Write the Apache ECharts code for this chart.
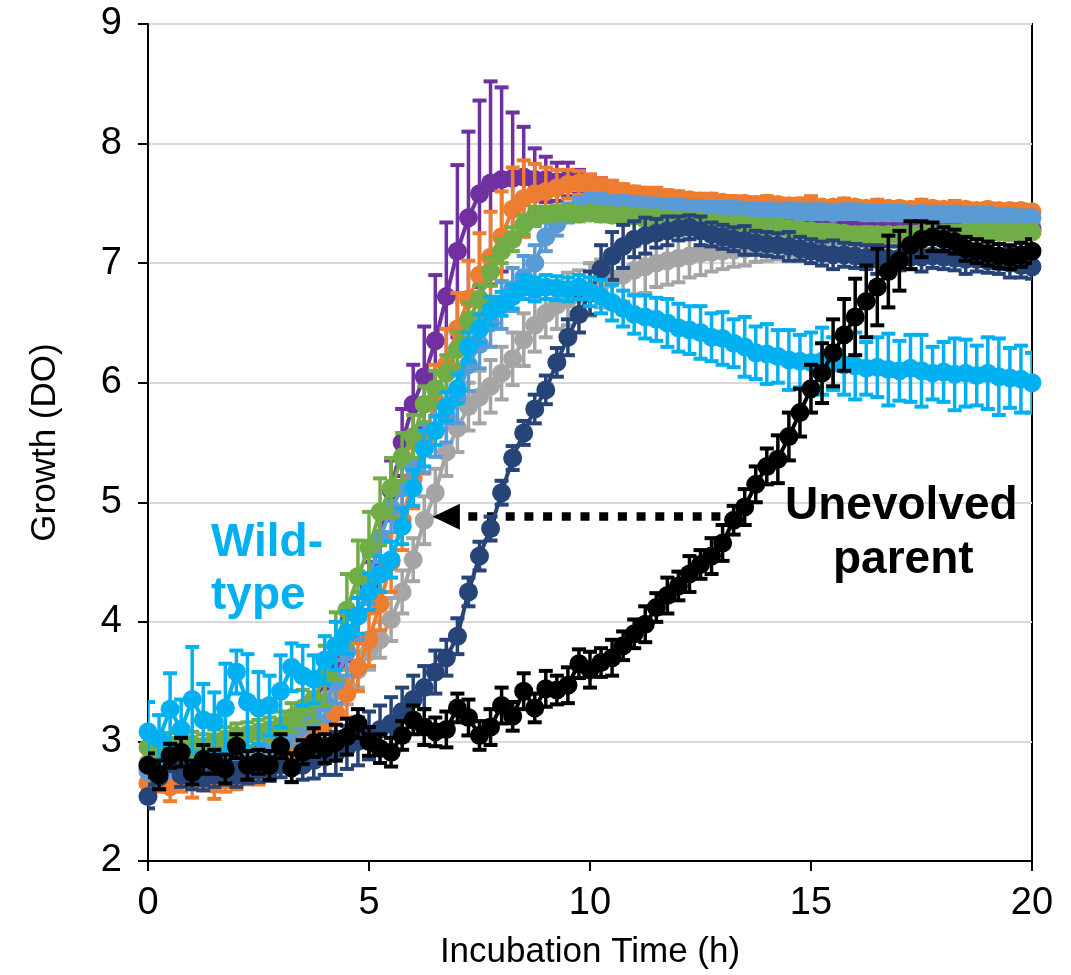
<!DOCTYPE html>
<html>
<head>
<meta charset="utf-8">
<title>Growth (DO)</title>
<script src="https://cdn.jsdelivr.net/npm/echarts@6/dist/echarts.min.js"></script>
<style>
html, body { margin: 0; padding: 0; background: #fff; }
#main { width: 1071px; height: 975px; }
</style>
</head>
<body>
<div id="main"></div>
<script>
// sampling times (h)
var hours = [0,0.25,0.5,0.75,1,1.25,1.5,1.75,2,2.25,2.5,2.75,3,3.25,3.5,3.75,4,4.25,4.5,4.75,5,5.25,5.5,5.75,6,6.25,6.5,6.75,7,7.25,7.5,7.75,8,8.25,8.5,8.75,9,9.25,9.5,9.75,10,10.25,10.5,10.75,11,11.25,11.5,11.75,12,12.25,12.5,12.75,13,13.25,13.5,13.75,14,14.25,14.5,14.75,15,15.25,15.5,15.75,16,16.25,16.5,16.75,17,17.25,17.5,17.75,18,18.25,18.5,18.75,19,19.25,19.5,19.75,20];

var purple = [2.78,2.82,2.76,2.8,2.83,2.78,2.8,2.84,2.82,2.85,2.87,2.9,2.95,3.05,3.2,3.35,3.5,3.65,3.85,4.05,4.3,4.7,5.1,5.5,5.82,6.05,6.35,6.72,7.1,7.38,7.58,7.67,7.7,7.71,7.72,7.7,7.7,7.68,7.7,7.68,7.66,7.63,7.6,7.58,7.56,7.54,7.52,7.5,7.48,7.46,7.45,7.43,7.42,7.41,7.4,7.39,7.37,7.37,7.36,7.35,7.34,7.34,7.33,7.33,7.33,7.32,7.32,7.32,7.31,7.31,7.31,7.3,7.3,7.3,7.3,7.29,7.29,7.29,7.28,7.28,7.28];
var purpleErr = [.08,.1,.08,.1,.08,.1,.08,.1,.12,.08,.1,.08,.1,.12,.12,.15,.15,.15,.18,.2,.2,.22,.25,.28,.33,.42,.55,.62,.72,.72,.78,.85,.77,.55,.42,.26,.19,.16,.14,.1,.08,.08,.07,.07,.07,.06,.07,.06,.06,.06,.06,.05,.06,.05,.06,.05,.05,.06,.05,.05,.06,.05,.05,.05,.05,.05,.06,.05,.05,.05,.05,.06,.05,.05,.05,.05,.05,.06,.05,.05,.05];

var orange = [2.65,2.7,2.62,2.68,2.66,2.7,2.64,2.68,2.7,2.72,2.74,2.78,2.85,2.92,3.0,3.08,3.15,3.24,3.4,3.62,3.85,4.15,4.5,4.85,5.2,5.52,5.85,6.15,6.45,6.7,6.9,7.05,7.22,7.45,7.54,7.58,7.6,7.63,7.66,7.67,7.66,7.64,7.62,7.6,7.58,7.57,7.56,7.55,7.54,7.53,7.52,7.52,7.51,7.5,7.5,7.49,7.5,7.49,7.48,7.48,7.49,7.47,7.47,7.48,7.47,7.46,7.47,7.46,7.46,7.45,7.47,7.46,7.45,7.46,7.45,7.44,7.45,7.44,7.44,7.44,7.43];
var orangeErr = [.1,.12,.12,.1,.13,.1,.12,.1,.1,.08,.1,.08,.1,.1,.12,.15,.15,.18,.2,.2,.22,.22,.25,.25,.25,.28,.3,.3,.3,.32,.35,.38,.38,.35,.32,.25,.2,.15,.12,.1,.08,.07,.07,.06,.06,.06,.07,.06,.06,.05,.06,.06,.05,.06,.05,.06,.06,.05,.05,.06,.07,.05,.05,.06,.05,.05,.06,.05,.05,.05,.06,.05,.05,.06,.05,.05,.05,.05,.05,.05,.05];

var green = [2.95,2.92,2.97,2.95,2.98,2.96,3.0,3.02,3.05,3.06,3.08,3.1,3.13,3.2,3.28,3.35,3.55,3.8,4.1,4.38,4.62,4.92,5.12,5.38,5.55,5.82,5.95,6.08,6.28,6.52,6.7,6.93,7.1,7.2,7.32,7.39,7.41,7.42,7.42,7.41,7.42,7.41,7.4,7.4,7.39,7.38,7.38,7.37,7.36,7.35,7.35,7.34,7.33,7.32,7.32,7.31,7.3,7.3,7.29,7.28,7.27,7.26,7.26,7.25,7.24,7.24,7.24,7.24,7.24,7.24,7.25,7.25,7.25,7.25,7.26,7.26,7.26,7.26,7.26,7.26,7.26];
var greenErr = [.1,.12,.1,.1,.1,.1,.1,.1,.1,.1,.1,.1,.12,.12,.15,.18,.25,.28,.3,.3,.3,.28,.25,.2,.18,.15,.15,.15,.15,.15,.12,.12,.1,.1,.08,.08,.06,.06,.06,.06,.05,.06,.05,.05,.05,.06,.05,.05,.05,.06,.05,.05,.05,.06,.05,.05,.05,.06,.05,.05,.05,.06,.05,.05,.05,.06,.05,.05,.05,.06,.05,.05,.05,.06,.05,.05,.05,.06,.05,.05,.05];

var lightBlue = [2.75,2.78,2.8,2.78,2.82,2.8,2.82,2.84,2.85,2.86,2.88,2.92,2.98,3.08,3.14,3.2,3.32,3.5,3.75,4.05,4.35,4.7,4.95,5.12,5.3,5.45,5.6,5.72,5.88,6.15,6.32,6.5,6.65,6.78,6.88,7.0,7.22,7.33,7.42,7.47,7.52,7.52,7.5,7.5,7.49,7.48,7.48,7.47,7.47,7.46,7.46,7.45,7.45,7.45,7.44,7.44,7.44,7.43,7.44,7.43,7.43,7.43,7.42,7.43,7.43,7.42,7.42,7.42,7.42,7.41,7.42,7.41,7.41,7.41,7.4,7.4,7.4,7.39,7.39,7.38,7.38];
var lightBlueErr = [.1,.1,.1,.1,.1,.1,.1,.1,.1,.1,.1,.1,.12,.12,.15,.15,.15,.18,.2,.2,.2,.2,.2,.2,.2,.2,.22,.22,.22,.22,.2,.2,.2,.18,.18,.15,.12,.1,.08,.08,.06,.06,.05,.06,.06,.06,.05,.06,.06,.06,.05,.06,.06,.06,.05,.06,.06,.06,.05,.06,.06,.06,.05,.06,.06,.06,.05,.06,.06,.06,.05,.06,.06,.06,.05,.06,.06,.06,.05,.06,.05];

var skyBlue = [3.08,3.02,3.27,3.1,3.35,3.18,3.16,3.28,3.58,3.33,3.28,3.3,3.42,3.62,3.55,3.52,3.68,3.8,3.91,4.05,4.25,4.4,4.52,4.8,5.12,5.45,5.6,5.8,5.95,6.3,6.45,6.6,6.66,6.72,6.8,6.78,6.8,6.79,6.78,6.8,6.76,6.72,6.67,6.62,6.57,6.55,6.53,6.5,6.46,6.44,6.42,6.38,6.37,6.33,6.3,6.25,6.24,6.22,6.19,6.18,6.17,6.18,6.16,6.15,6.14,6.12,6.13,6.11,6.1,6.12,6.1,6.08,6.09,6.07,6.08,6.06,6.08,6.05,6.04,6.03,6.0];
var skyBlueErr = [.25,.2,.3,.25,.44,.3,.25,.37,.18,.4,.3,.25,.3,.2,.25,.2,.2,.2,.18,.15,.15,.15,.15,.15,.15,.15,.12,.12,.12,.12,.12,.12,.1,.1,.1,.1,.1,.1,.1,.1,.12,.14,.15,.15,.16,.18,.18,.2,.2,.2,.22,.2,.22,.2,.25,.22,.25,.22,.25,.22,.25,.28,.22,.25,.28,.22,.25,.3,.25,.28,.3,.22,.25,.3,.28,.25,.3,.32,.25,.28,.25];

var gray = [2.82,2.8,2.84,2.82,2.85,2.83,2.86,2.85,2.87,2.88,2.9,2.93,2.97,3.05,3.15,3.28,3.38,3.42,3.46,3.6,3.75,3.85,4.02,4.25,4.52,4.85,5.08,5.42,5.62,5.8,5.88,5.97,6.08,6.2,6.36,6.48,6.58,6.65,6.7,6.74,6.78,6.83,6.87,6.9,6.94,6.97,7.0,7.02,7.04,7.06,7.08,7.09,7.1,7.11,7.12,7.13,7.14,7.15,7.16,7.16,7.17,7.17,7.18,7.18,7.19,7.2,7.2,7.21,7.21,7.22,7.22,7.23,7.23,7.24,7.25,7.26,7.27,7.28,7.29,7.3,7.3];
var grayErr = [.08,.08,.08,.08,.08,.08,.08,.08,.08,.08,.08,.08,.1,.1,.12,.12,.12,.12,.15,.15,.15,.15,.18,.18,.18,.2,.2,.2,.2,.2,.22,.22,.22,.22,.22,.22,.2,.2,.22,.2,.22,.2,.2,.22,.2,.22,.2,.2,.2,.18,.18,.16,.15,.14,.14,.12,.12,.12,.1,.12,.12,.12,.1,.12,.12,.12,.1,.12,.12,.12,.1,.12,.12,.12,.1,.12,.12,.12,.1,.12,.1];

var navy = [2.54,2.7,2.85,2.72,2.7,2.69,2.72,2.74,2.72,2.75,2.76,2.77,2.8,2.78,2.8,2.84,2.87,2.9,2.95,3.0,3.05,3.1,3.15,3.25,3.35,3.45,3.58,3.7,3.88,4.25,4.55,4.78,5.08,5.37,5.58,5.78,5.94,6.17,6.38,6.57,6.75,6.95,7.06,7.14,7.2,7.23,7.25,7.27,7.29,7.3,7.27,7.24,7.22,7.2,7.19,7.17,7.16,7.15,7.14,7.12,7.1,7.08,7.07,7.07,7.06,7.05,7.03,7.04,7.04,7.05,7.05,7.06,7.05,7.04,7.03,7.03,7.02,7.01,7.0,6.98,6.97];
var navyErr = [.1,.1,.1,.1,.1,.1,.1,.1,.1,.1,.1,.1,.1,.12,.12,.15,.15,.18,.18,.2,.2,.2,.22,.2,.2,.18,.18,.15,.15,.12,.12,.1,.1,.1,.1,.12,.12,.12,.15,.15,.18,.2,.2,.18,.15,.15,.12,.12,.1,.1,.12,.1,.1,.1,.12,.1,.1,.1,.12,.1,.1,.1,.12,.1,.1,.1,.12,.1,.1,.1,.12,.1,.1,.1,.12,.1,.1,.1,.12,.1,.1];

var black = [2.8,2.72,2.88,2.91,2.74,2.85,2.83,2.77,2.96,2.8,2.83,2.8,2.96,2.78,2.91,2.99,2.94,2.99,3.04,3.15,3.0,2.94,2.91,3.05,3.18,3.12,3.08,3.1,3.28,3.2,3.05,3.12,3.3,3.21,3.42,3.28,3.44,3.43,3.47,3.65,3.6,3.66,3.7,3.8,3.9,3.98,4.12,4.22,4.3,4.4,4.48,4.55,4.66,4.85,4.96,5.15,5.3,5.36,5.55,5.75,5.95,6.08,6.25,6.4,6.55,6.68,6.8,6.93,7.02,7.15,7.2,7.22,7.2,7.18,7.12,7.1,7.08,7.06,7.05,7.07,7.1];
var blackErr = [.1,.12,.1,.12,.1,.12,.1,.12,.1,.12,.1,.12,.1,.12,.1,.12,.12,.15,.15,.12,.12,.12,.12,.12,.12,.15,.12,.15,.12,.15,.12,.15,.15,.12,.15,.12,.15,.12,.15,.12,.15,.12,.15,.12,.12,.15,.12,.15,.12,.15,.12,.15,.15,.12,.15,.15,.15,.2,.2,.2,.2,.25,.28,.3,.32,.3,.32,.3,.25,.2,.15,.12,.1,.1,.1,.1,.1,.1,.1,.1,.1];

// dotted arrow: from the unevolved parent back to the evolved curve
var arrowFrom = [12.95, 4.88];
var arrowTo = [6.75, 4.88];

// drawing order, bottom to top
var strains = [
  { name: 'gray', color: '#A5A5A5', values: gray, errors: grayErr },
  { name: 'purple', color: '#7030A0', values: purple, errors: purpleErr },
  { name: 'orange', color: '#ED7D31', values: orange, errors: orangeErr },
  { name: 'lightBlue', color: '#5B9BD5', values: lightBlue, errors: lightBlueErr },
  { name: 'green', color: '#70AD47', values: green, errors: greenErr },
  { name: 'navy', color: '#264478', values: navy, errors: navyErr },
  { name: 'wildType', color: '#00B0F0', values: skyBlue, errors: skyBlueErr },
  { name: 'parent', color: '#000000', values: black, errors: blackErr }
];

var font = '"Liberation Sans", Arial, sans-serif';

function errorBar(color) {
  return function (params, api) {
    var x = api.value(0), y = api.value(1), e = api.value(2);
    var hi = api.coord([x, y + e]);
    var lo = api.coord([x, y - e]);
    var w = 7;
    return {
      type: 'group',
      children: [
        { type: 'line', shape: { x1: hi[0], y1: hi[1], x2: lo[0], y2: lo[1] }, style: { stroke: color, lineWidth: 3.5 } },
        { type: 'line', shape: { x1: hi[0] - w, y1: hi[1], x2: hi[0] + w, y2: hi[1] }, style: { stroke: color, lineWidth: 4 } },
        { type: 'line', shape: { x1: lo[0] - w, y1: lo[1], x2: lo[0] + w, y2: lo[1] }, style: { stroke: color, lineWidth: 4 } }
      ]
    };
  };
}

var series = [];
strains.forEach(function (s, k) {
  series.push({
    name: s.name + 'Err',
    type: 'custom',
    renderItem: errorBar(s.color),
    data: hours.map(function (t, i) { return [t, s.values[i], s.errors[i]]; }),
    encode: { x: 0, y: 1 },
    clip: true,
    silent: true,
    z: 2 + k * 2
  });
  var line = {
    name: s.name,
    type: 'line',
    data: hours.map(function (t, i) { return [t, s.values[i]]; }),
    symbol: 'circle',
    symbolSize: 19,
    showAllSymbol: true,
    lineStyle: { color: s.color, width: 4 },
    itemStyle: { color: s.color },
    emphasis: { disabled: true },
    clip: true,
    silent: true,
    z: 3 + k * 2
  };
  if (s.name === 'parent') {
    line.markLine = {
      silent: true,
      symbol: ['none', 'triangle'],
      symbolSize: [26, 27],
      label: { show: false },
      lineStyle: { color: '#000', width: 8.5, type: [9, 9.7], cap: 'butt' },
      emphasis: { disabled: true },
      data: [[{ coord: arrowFrom }, { coord: arrowTo }]]
    };
  }
  series.push(line);
});

var chart = echarts.init(document.getElementById('main'));
chart.setOption({
  animation: false,
  backgroundColor: '#fff',
  grid: { left: 148, right: 39, top: 24, bottom: 113, show: true, borderColor: '#000', borderWidth: 2, backgroundColor: 'transparent' },
  xAxis: {
    type: 'value', min: 0, max: 20, interval: 5,
    name: 'Incubation Time (h)', nameLocation: 'middle', nameGap: 74,
    nameTextStyle: { fontFamily: font, fontSize: 35, color: '#000' },
    axisLine: { show: true, lineStyle: { color: '#000', width: 2 } },
    axisTick: { show: true, length: 10, lineStyle: { color: '#000', width: 2 } },
    axisLabel: { fontFamily: font, fontSize: 38, color: '#000', margin: 24 },
    splitLine: { show: false }
  },
  yAxis: {
    type: 'value', min: 2, max: 9, interval: 1,
    name: 'Growth (DO)', nameLocation: 'middle', nameGap: 85,
    nameTextStyle: { fontFamily: font, fontSize: 35, color: '#000' },
    axisLine: { show: true, lineStyle: { color: '#000', width: 2 } },
    axisTick: { show: true, length: 10, lineStyle: { color: '#000', width: 2 } },
    axisLabel: { fontFamily: font, fontSize: 38, color: '#000', margin: 26 },
    splitLine: { show: true, lineStyle: { color: '#D9D9D9', width: 2 } }
  },
  graphic: [
    { type: 'text', left: 211, top: 520, z: 100, style: { text: 'Wild-', font: 'bold 46px ' + font, fill: '#00B0F0' } },
    { type: 'text', left: 211, top: 573, z: 100, style: { text: 'type', font: 'bold 46px ' + font, fill: '#00B0F0' } },
    { type: 'text', left: 785, top: 483, z: 100, style: { text: 'Unevolved', font: 'bold 46px ' + font, fill: '#000' } },
    { type: 'text', left: 833, top: 537, z: 100, style: { text: 'parent', font: 'bold 46px ' + font, fill: '#000' } }
  ],
  series: series
});
</script>
</body>
</html>
